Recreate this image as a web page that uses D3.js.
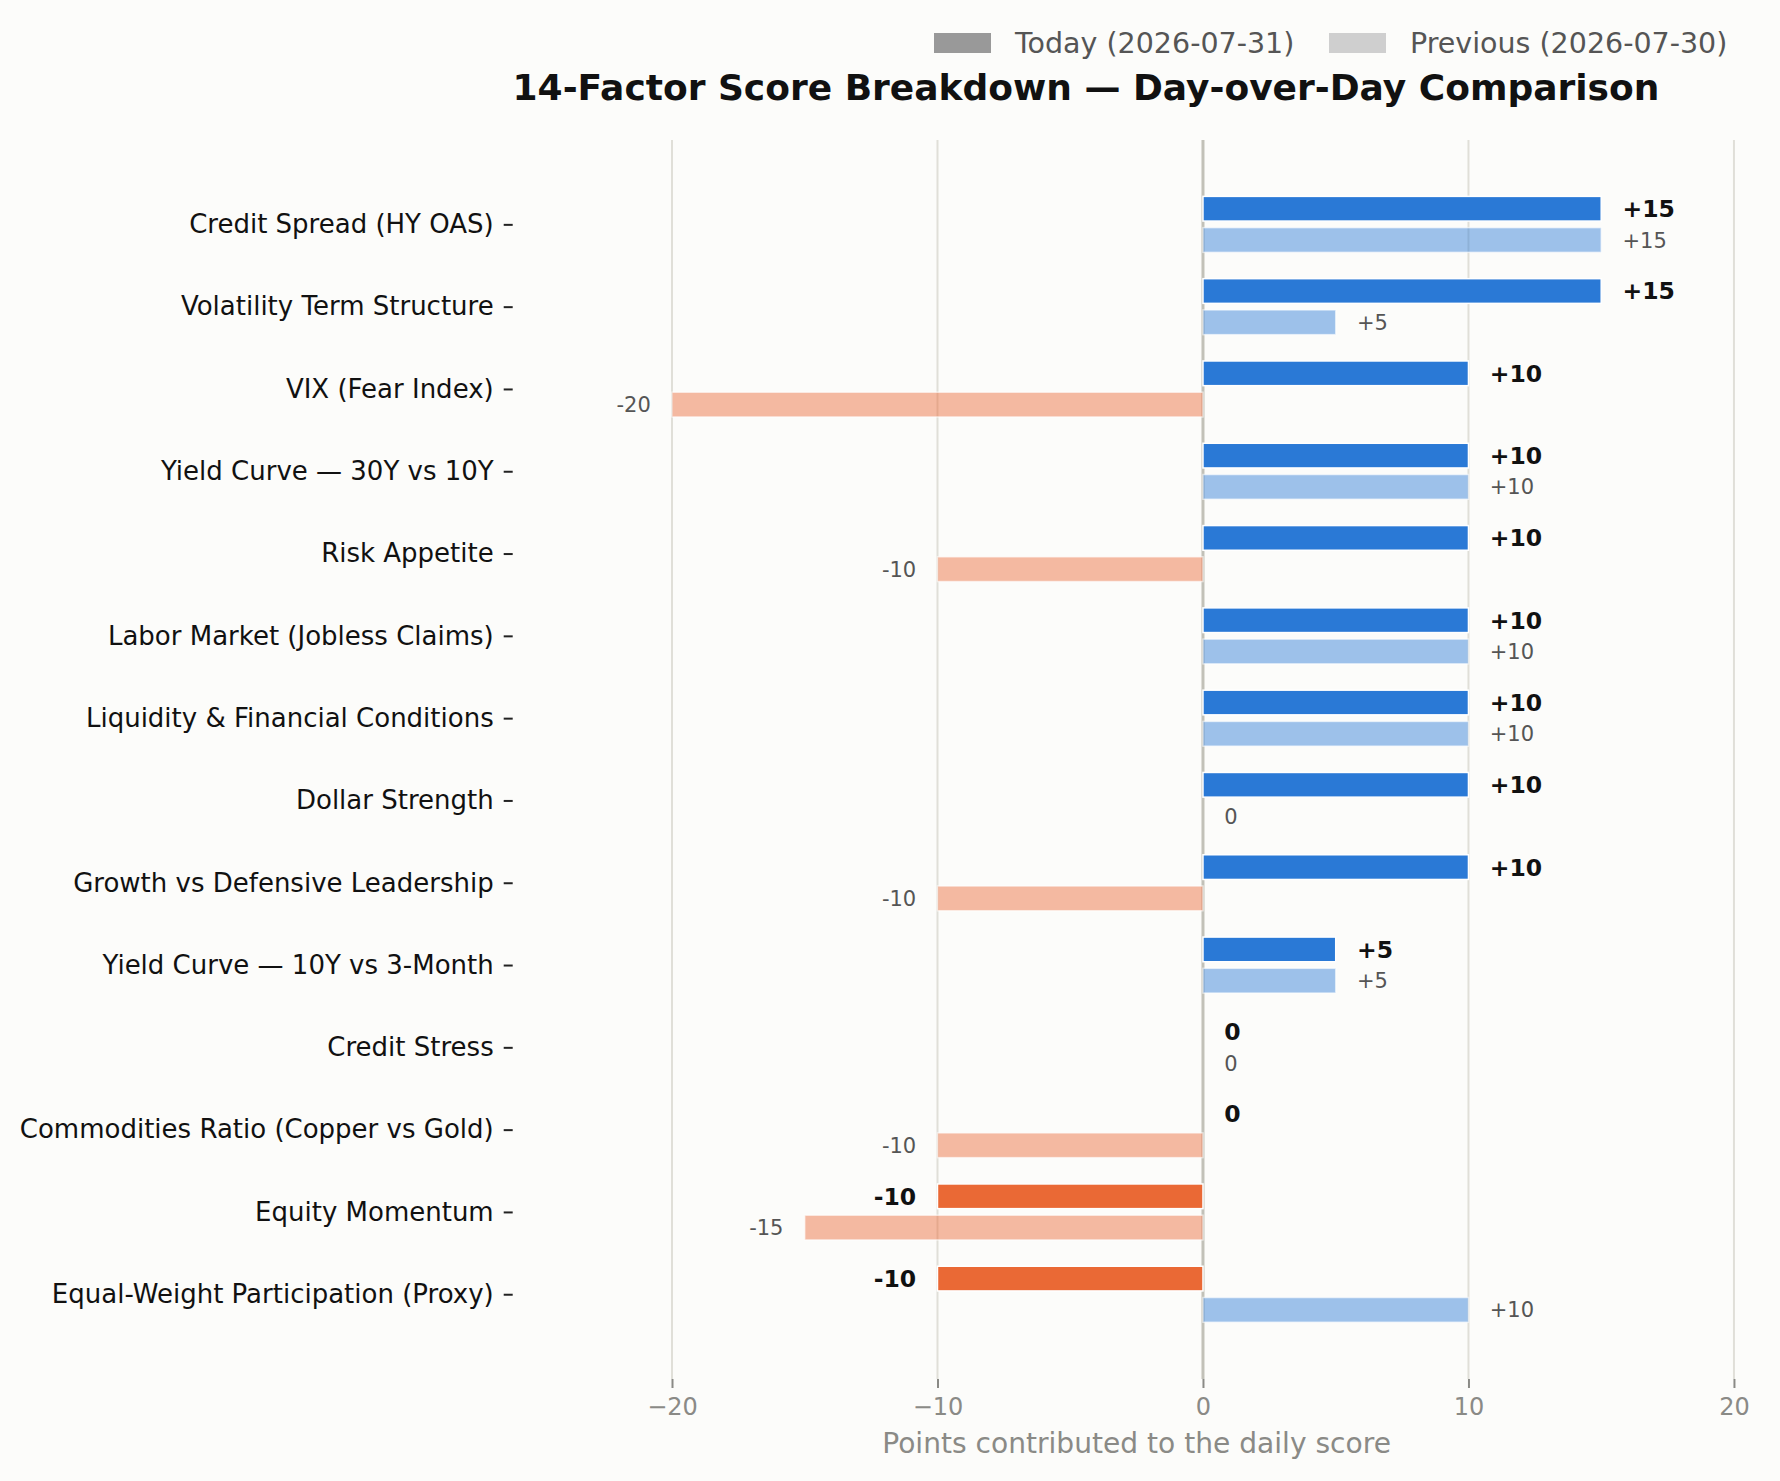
<!DOCTYPE html>
<html>
<head>
<meta charset="utf-8">
<script src="https://cdn.jsdelivr.net/npm/d3@7"></script>
<style>
  body { margin: 0; background: #fcfcfa; }
  svg { display: block; font-family: "DejaVu Sans", sans-serif; }
</style>
</head>
<body>
<div id="chart"></div>
<script>
(function() {

  var factors = [
    "Credit Spread (HY OAS)",
    "Volatility Term Structure",
    "VIX (Fear Index)",
    "Yield Curve \u2014 30Y vs 10Y",
    "Risk Appetite",
    "Labor Market (Jobless Claims)",
    "Liquidity & Financial Conditions",
    "Dollar Strength",
    "Growth vs Defensive Leadership",
    "Yield Curve \u2014 10Y vs 3-Month",
    "Credit Stress",
    "Commodities Ratio (Copper vs Gold)",
    "Equity Momentum",
    "Equal-Weight Participation (Proxy)"
  ];

  var today    = [15, 15, 10, 10, 10, 10, 10, 10, 10, 5, 0, 0, -10, -10];
  var previous = [15, 5, -20, 10, -10, 10, 10, 0, -10, 5, 0, -10, -15, 10];

  var xTicks = [-20, -10, 0, 10, 20];
  var legendLabels = ["Today (2026-07-31)", "Previous (2026-07-30)"];

  var width = 1780,
      height = 1481,
      margin = {top: 140, right: 19.5, bottom: 102, left: 512.7};

  var blue = "#2a79d6",
      orange = "#ea6935",
      bg = "#fcfcfa";

  var x = d3.scaleLinear()
      .domain([-26, 21])
      .range([margin.left, width - margin.right]);

  var yIdx = d3.scaleLinear()
      .domain([-1.025, factors.length - 1 + 1.03])
      .range([margin.top, height - margin.bottom]);

  var y = d3.scalePoint()
      .domain(factors)
      .range([yIdx(0), yIdx(factors.length - 1)]);

  var barH = yIdx(0.30) - yIdx(0),
      barOff = yIdx(0.19) - yIdx(0),
      labelOff = x(0.8) - x(0);

  var svg = d3.select("#chart").append("svg")
      .attr("width", width)
      .attr("height", height);

  svg.append("rect")
      .attr("width", width)
      .attr("height", height)
      .attr("fill", bg);

  // grid
  svg.append("g")
    .selectAll("line")
    .data(xTicks)
    .join("line")
      .attr("x1", d => x(d))
      .attr("x2", d => x(d))
      .attr("y1", margin.top)
      .attr("y2", height - margin.bottom)
      .attr("stroke", d => d === 0 ? "#c2c1b8" : "#e0dfd8")
      .attr("stroke-width", d => d === 0 ? 3 : 2);

  // x axis
  var xAxis = svg.append("g")
      .attr("transform", "translate(0," + (height - margin.bottom) + ")")
      .call(d3.axisBottom(x).tickValues(xTicks).tickSize(9).tickPadding(10)
        .tickFormat(d => d < 0 ? "\u2212" + Math.abs(d) : d));
  xAxis.select(".domain").remove();
  xAxis.selectAll(".tick line").attr("stroke", "#8a8a86").attr("stroke-width", 2);
  xAxis.selectAll(".tick text")
      .attr("fill", "#8a8a86")
      .style("font-size", "24px")
      .style("font-family", "DejaVu Sans");

  svg.append("text")
      .attr("x", (x.range()[0] + x.range()[1]) / 2)
      .attr("y", 1453)
      .attr("text-anchor", "middle")
      .attr("fill", "#8a8a86")
      .style("font-size", "28.1px")
      .text("Points contributed to the daily score");

  // y axis
  var yAxis = svg.append("g")
      .attr("transform", "translate(" + margin.left + ",0)")
      .call(d3.axisLeft(y).tickSize(9).tickPadding(10));
  yAxis.select(".domain").remove();
  yAxis.selectAll(".tick line").attr("stroke", "#222").attr("stroke-width", 2);
  yAxis.selectAll(".tick text")
      .attr("fill", "#111")
      .style("font-size", "26px")
      .style("font-family", "DejaVu Sans");

  var rows = factors.map((f, i) => ({f: f, t: today[i], p: previous[i]}));

  // previous bars (faded)
  svg.append("g")
    .selectAll("rect")
    .data(rows)
    .join("rect")
      .attr("x", d => x(Math.min(0, d.p)))
      .attr("width", d => Math.abs(x(d.p) - x(0)))
      .attr("y", d => y(d.f) + barOff - barH / 2)
      .attr("height", barH)
      .attr("fill", d => d.p < 0 ? orange : blue)
      .attr("fill-opacity", 0.45)
      .attr("stroke", "#fff")
      .attr("stroke-opacity", 0.6)
      .attr("stroke-width", 1.5);

  // today bars
  svg.append("g")
    .selectAll("rect")
    .data(rows)
    .join("rect")
      .attr("x", d => x(Math.min(0, d.t)))
      .attr("width", d => Math.abs(x(d.t) - x(0)))
      .attr("y", d => y(d.f) - barOff - barH / 2)
      .attr("height", barH)
      .attr("fill", d => d.t < 0 ? orange : blue)
      .attr("stroke", "#fff")
      .attr("stroke-width", 1.5);

  function fmt(v) { return v > 0 ? "+" + v : String(v); }

  // value labels
  svg.append("g")
    .selectAll("text")
    .data(rows)
    .join("text")
      .attr("x", d => d.t < 0 ? x(d.t) - labelOff : x(d.t) + labelOff)
      .attr("y", d => y(d.f) - barOff)
      .attr("dy", "0.36em")
      .attr("text-anchor", d => d.t < 0 ? "end" : "start")
      .attr("fill", "#111")
      .style("font-size", "23.5px")
      .style("font-weight", "bold")
      .text(d => fmt(d.t));

  svg.append("g")
    .selectAll("text")
    .data(rows)
    .join("text")
      .attr("x", d => d.p < 0 ? x(d.p) - labelOff : x(d.p) + labelOff)
      .attr("y", d => y(d.f) + barOff)
      .attr("dy", "0.36em")
      .attr("text-anchor", d => d.p < 0 ? "end" : "start")
      .attr("fill", "#555")
      .style("font-size", "21px")
      .text(d => fmt(d.p));

  // title
  svg.append("text")
      .attr("x", 1086)
      .attr("y", 99.5)
      .attr("text-anchor", "middle")
      .attr("fill", "#111")
      .style("font-size", "36px")
      .style("font-weight", "bold")
      .text("14-Factor Score Breakdown \u2014 Day-over-Day Comparison");

  // legend
  var legend = svg.append("g");
  var legendItems = [
    {label: legendLabels[0], color: "#999999", x: 934},
    {label: legendLabels[1], color: "#cfcfcf", x: 1329}
  ];
  var li = legend.selectAll("g")
    .data(legendItems)
    .join("g")
      .attr("transform", d => "translate(" + d.x + ",33)");
  li.append("rect")
      .attr("width", 57)
      .attr("height", 20)
      .attr("fill", d => d.color);
  li.append("text")
      .attr("x", 81)
      .attr("y", 10)
      .attr("dy", "0.36em")
      .attr("fill", "#555")
      .style("font-size", "28.5px")
      .text(d => d.label);

})();
</script>
</body>
</html>
